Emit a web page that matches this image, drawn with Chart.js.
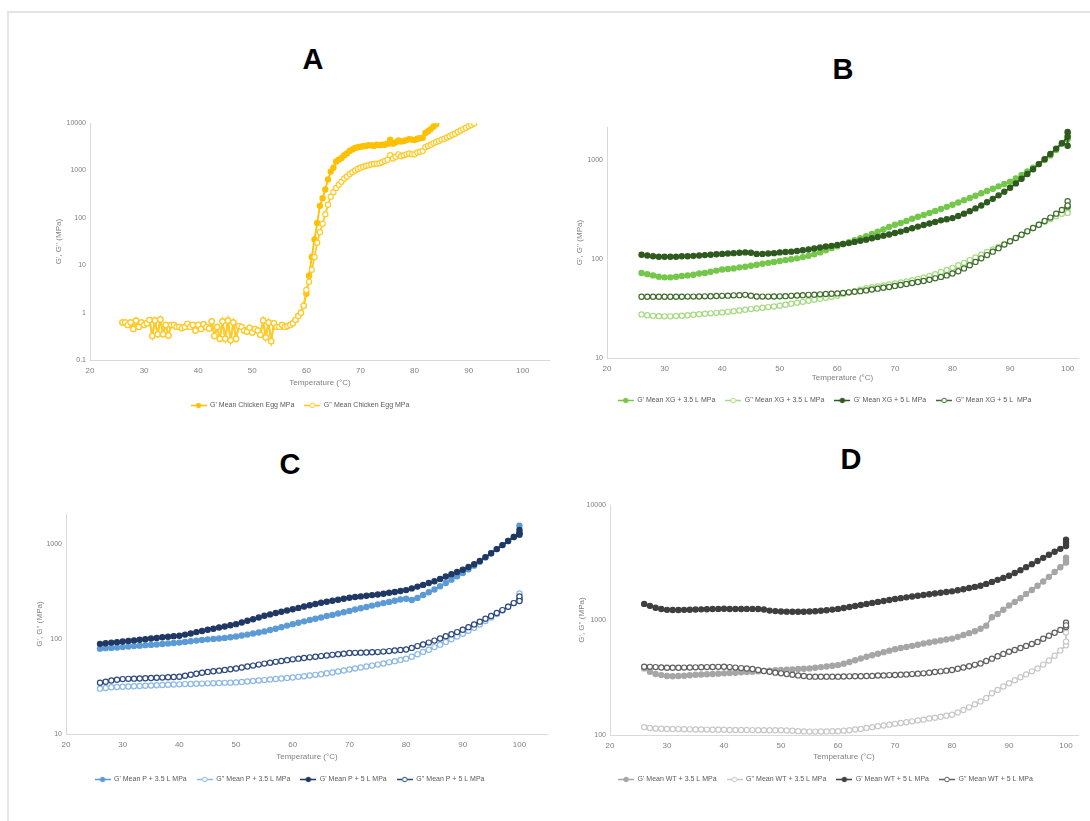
<!DOCTYPE html>
<html>
<head>
<meta charset="UTF-8">
<title>G', G'' vs temperature</title>
<script src="https://cdn.jsdelivr.net/npm/chart.js"></script>
<style>
  body { margin: 0; background: #fff; width: 1090px; height: 821px; overflow: hidden; position: relative; font-family: "Liberation Sans", Arial, sans-serif; }
  #frame { position: absolute; left: 7px; top: 11px; width: 1100px; height: 830px; border-left: 2px solid #e4e4e4; border-top: 2px solid #e4e4e4; }
  .panel-letter { position: absolute; font-weight: bold; font-size: 29px; line-height: 1; color: #000; transform: translateX(-50%); }
  canvas { position: absolute; }
</style>
</head>
<body>
<div id="frame"></div>
<div class="panel-letter" style="left:313px; top:45px;">A</div>
<div class="panel-letter" style="left:843px; top:55px;">B</div>
<div class="panel-letter" style="left:290px; top:450px;">C</div>
<div class="panel-letter" style="left:851px; top:445px;">D</div>

<script>
// ---- data ----
// A: chicken egg, 0.5 °C steps
const tempEgg = [
  26,26.5,27,27.5,28,28.5,29,29.5,30,30.5,
  31,31.5,32,32.5,33,33.5,34,34.5,35,35.5,
  36,36.5,37,37.5,38,38.5,39,39.5,40,40.5,
  41,41.5,42,42.5,43,43.5,44,44.5,45,45.5,
  46,46.5,47,47.5,48,48.5,49,49.5,50,50.5,
  51,51.5,52,52.5,53,53.5,54,54.5,55,55.5,
  56,56.5,57,57.5,58,58.5,59,59.5,60,60.5,
  61,61.5,62,62.5,63,63.5,64,64.5,65,65.5,
  66,66.5,67,67.5,68,68.5,69,69.5,70,70.5,
  71,71.5,72,72.5,73,73.5,74,74.5,75,75.5,
  76,76.5,77,77.5,78,78.5,79,79.5,80,80.5,
  81,81.5,82,82.5,83,83.5,84,84.5,85,85.5,
  86,86.5,87,87.5,88,88.5,89,89.5,90,90.5,
  91
];
// 26 .. 59.5 °C, G' and G'' overlap here
const eggLow = [
  0.62,0.62,0.55,0.62,0.45,0.68,0.5,0.62,0.55,0.6,
  0.7,0.32,0.68,0.35,0.72,0.35,0.55,0.33,0.55,0.55,
  0.5,0.5,0.47,0.5,0.58,0.5,0.55,0.42,0.55,0.45,
  0.57,0.5,0.46,0.65,0.32,0.5,0.28,0.65,0.28,0.68,
  0.26,0.62,0.28,0.52,0.5,0.42,0.4,0.48,0.38,0.45,
  0.42,0.34,0.68,0.3,0.62,0.25,0.6,0.5,0.5,0.55,
  0.5,0.52,0.55,0.6,0.7,0.85,1.0,1.4
];
// 60 .. 84 °C
const eggGpHigh = [
  2.5,6,15,35,78,180,260,400,650,950,
  1150,1550,1700,1850,2100,2300,2600,2800,3000,3100,
  3200,3250,3300,3450,3400,3350,3500,3450,3500,3500,
  3700,4500,3700,3900,4300,4100,4200,4400,4600,4500,
  4400,4700,4800,4900,6200,6800,7500,8500,9500
];
// 60 .. 91 °C
const eggGppHigh = [
  3,4.5,8,15,30,50,75,120,190,280,
  350,430,500,580,680,750,850,920,1000,1080,
  1150,1200,1250,1300,1350,1380,1400,1420,1500,1600,
  1700,2100,1800,1950,2200,2000,2100,2200,2300,2200,
  2200,2400,2500,2600,3100,3300,3500,3800,4000,4200,
  4500,4700,5000,5300,5700,6000,6500,7000,7500,8000,
  8600,9200,9800
];
const eggGp = eggLow.concat(eggGpHigh);
const eggGpp = eggLow.concat(eggGppHigh);

// B, C, D: 1 °C steps, last two are the scatter at 100 °C
const tempSweep = [
  26,27,28,29,30,31,32,33,34,35,
  36,37,38,39,40,41,42,43,44,45,
  46,47,48,49,50,51,52,53,54,55,
  56,57,58,59,60,61,62,63,64,65,
  66,67,68,69,70,71,72,73,74,75,
  76,77,78,79,80,81,82,83,84,85,
  86,87,88,89,90,91,92,93,94,95,
  96,97,98,99,100,100,100
];

// B: XG
const xgGp35 = [
  72,70,68,66,65,65,66,67,68,69,
  71,72,74,76,78,79,80,82,83,85,
  87,89,91,93,95,97,99,101,104,107,
  111,116,122,128,134,141,147,154,161,169,
  178,188,198,209,220,230,241,253,265,277,
  290,304,318,334,350,369,389,410,432,457,
  482,508,537,567,600,645,700,760,830,900,
  990,1100,1250,1450,1700,1850,1600
];
const xgGpp35 = [
  27.5,27,26.6,26.4,26.3,26.3,26.5,26.7,27,27.3,
  27.6,27.9,28.2,28.5,28.8,29.2,29.6,30.1,30.6,31.1,
  31.6,32.1,32.6,33.1,33.6,34.4,35.2,36,36.8,37.7,
  38.6,39.5,40.4,41.4,42.4,44,45.6,47.2,48.8,50.5,
  51.6,52.7,53.8,55,56.3,57.7,59.2,60.8,62.5,64.5,
  67,70,73.5,77,81,86,91,97,103,110,
  117,124,132,141,150,162,175,189,204,220,
  236,252,268,284,300,330,290
];
const xgGp5 = [
  110,108,106,105,105,105,105,106,106,107,
  108,109,110,111,112,113,114,115,116,115,
  112,112,113,114,116,117,118,120,122,124,
  127,130,133,135,138,141,144,148,152,156,
  161,166,171,176,182,188,195,203,211,219,
  227,235,244,250,257,270,285,302,322,345,
  372,402,436,475,520,575,640,715,800,900,
  1010,1140,1290,1460,1700,1900,1380
];
const xgGpp5 = [
  41.4,41.4,41.4,41.4,41.4,41.4,41.5,41.5,41.6,41.6,
  41.7,41.8,41.9,42.1,42.3,42.5,42.8,43,43.3,42.5,
  41.7,41.6,41.6,41.7,41.8,42,42.3,42.6,43,43.3,
  43.5,43.8,44.1,44.4,44.8,45.3,45.9,46.5,47.2,48,
  49,50,51,52,53.3,54.5,55.8,57,58.4,59.8,
  61.5,63.5,65.7,68,71,75,80,86,93,101,
  109,118,128,139,150,162,175,189,204,220,
  240,260,285,310,336,380,345
];

// C: P
const pGp35 = [
  79,80,80.5,81,82,83,84,85,86,86.5,
  87.5,88.5,89.5,90.5,91.5,93,94.5,96,97.5,99,
  100,101,102.5,104,106,108.5,111,114,117,120,
  124,128,133,138,143,148,153,158,163,168,
  174,179,185,191,197,204,210,217,224,231,
  238,245,252,260,265,257,270,290,310,331,
  358,388,420,455,494,540,590,650,720,795,
  880,970,1070,1180,1290,1550,1300
];
const pGpp35 = [
  30,30.5,31,31.2,31.4,31.6,31.8,32,32.2,32.4,
  32.6,32.8,33,33.2,33.3,33.5,33.6,33.8,33.9,34.1,
  34.2,34.4,34.5,34.7,34.9,35.3,35.7,36.1,36.5,36.9,
  37.4,37.9,38.4,38.9,39.3,39.9,40.5,41.2,41.9,42.6,
  43.5,44.4,45.4,46.5,47.6,48.8,50,51.2,52.4,53.7,
  55.2,56.7,58.4,60.2,62,65,69,73,77,82,
  87,93,99,106,113,122,131,142,154,168,
  183,199,218,238,260,300,270
];
const pGp5 = [
  88.7,90,91.5,92.5,93.8,95,96.5,98,99.5,101,
  102.5,104,105.5,107,108,111,114,118,121,125,
  128,132,135,139,143,149,155,161,168,175,
  181,187,193,199,205,212,219,226,233,240,
  246,252,258,265,271,276,280,284,289,293,
  299,306,312,319,326,340,355,370,387,404,
  428,453,480,505,533,570,610,660,725,795,
  880,970,1070,1180,1290,1400,1250
];
const pGpp5 = [
  34.6,35.5,36.5,37.2,37.8,38,38.2,38.4,38.6,38.8,
  39,39.2,39.5,39.7,40,41,42,43,44,45,
  45.7,46.4,47.2,48,48.8,50,51.2,52.4,53.7,55,
  56.2,57.4,58.6,59.8,61,62,63,64,65,66,
  67,68,69,70,71,71.4,71.7,72,72.3,72.7,
  73.6,74.5,75.5,76.5,77.5,80.5,84,87.5,91.5,96,
  101,107,112,118,125,133,142,152,163,174,
  187,201,218,238,260,280,250
];

// D: WT
const wtGp35 = [
  380,355,340,332,326,325,326,328,331,334,
  336,338,340,342,344,346,348,351,353,356,
  358,361,363,366,368,370,372,375,377,380,
  385,390,395,400,406,418,432,447,463,480,
  495,510,526,542,558,571,584,597,611,625,
  638,651,664,677,690,715,742,770,800,842,
  895,1060,1130,1230,1340,1440,1550,1690,1830,1990,
  2170,2380,2620,2880,3170,3500,3300
];
const wtGpp35 = [
  117,115,114,113.5,113,112.8,112.5,112.3,112,111.8,
  111.6,111.4,111.2,111.1,111,110.8,110.7,110.5,110.4,110.3,
  110.2,110.1,110,110,110,109.5,109,108,107.5,107,
  107,107.2,107.5,107.8,108,109,110,111.5,113,115,
  117,119,121,123,125,127,129,131.5,134,136,
  139,141.5,144,147,150,157,165,174,185,196,
  210,231,247,264,282,300,318,337,358,380,
  410,445,490,545,605,780,650
];
const wtGp5 = [
  1384,1330,1280,1250,1228,1225,1225,1228,1232,1236,
  1240,1244,1248,1252,1254,1250,1248,1250,1252,1252,
  1250,1235,1210,1198,1188,1185,1183,1182,1183,1188,
  1195,1205,1218,1234,1252,1275,1300,1326,1354,1384,
  1412,1440,1468,1497,1527,1553,1578,1603,1629,1655,
  1680,1705,1730,1755,1780,1818,1858,1900,1945,1990,
  2065,2150,2240,2330,2430,2570,2720,2890,3070,3270,
  3480,3700,3940,4170,4410,5000,4700
];
const wtGpp5 = [
  393,392,390,387,385,385,385,386,387,388,
  389,390,391,392,393,390,386,382,379,375,
  368,361,355,349,344,339,334,330,326,322,
  322,322,322,322,322,323,324,325,325,326,
  327,329,330,332,333,335,337,339,342,344,
  348,353,358,363,368,377,387,397,408,420,
  440,462,485,508,530,550,572,596,620,646,
  688,730,775,822,870,950,900
];

const tempTicks = [20, 30, 40, 50, 60, 70, 80, 90, 100];

// ---- drawing ----
const FONT = "'Liberation Sans', Arial, sans-serif";
const GREY = '#7f7f7f';

function legendIcon(color, hollow) {
  const c = document.createElement('canvas');
  c.width = 16; c.height = 7;
  const g = c.getContext('2d');
  g.strokeStyle = color; g.lineWidth = 1.5;
  g.beginPath(); g.moveTo(0, 3.5); g.lineTo(16, 3.5); g.stroke();
  g.beginPath(); g.arc(8, 3.5, 2.3, 0, Math.PI * 2);
  g.fillStyle = hollow ? '#fff' : color;
  g.fill(); g.lineWidth = 1; g.stroke();
  return c;
}

function series(label, xs, ys, color, hollow, r) {
  return {
    label: label,
    data: ys.map((y, i) => ({ x: xs[i], y: y })),
    borderColor: color,
    backgroundColor: hollow ? '#fff' : color,
    pointBackgroundColor: hollow ? '#fff' : color,
    pointBorderColor: color,
    pointBorderWidth: 1.2,
    pointRadius: r,
    borderWidth: 1.8,
    tension: 0,
    hollow: hollow
  };
}

// box: canvas left, plot top, y axis width, plot width/height, x axis height
function drawPanel(box, datasets, xMax, yMin, yMax, yTicks) {
  const padTop = 6;
  const w = box.yW + box.plotW + box.padRight;
  const h = padTop + box.plotH + box.xH + 27;
  const cv = document.createElement('canvas');
  cv.width = w; cv.height = h;
  cv.style.left = box.left + 'px';
  cv.style.top = (box.top - padTop) + 'px';
  cv.style.width = w + 'px'; cv.style.height = h + 'px';
  document.body.appendChild(cv);

  // later series on top, like the spreadsheet
  datasets.forEach((d, i) => { d.order = datasets.length - i; });

  new Chart(cv.getContext('2d'), {
    type: 'line',
    data: { datasets: datasets },
    options: {
      responsive: false,
      animation: false,
      layout: { padding: { top: padTop, right: box.padRight, left: 0, bottom: 0 } },
      plugins: {
        tooltip: { enabled: false },
        legend: {
          position: 'bottom',
          labels: {
            usePointStyle: true,
            pointStyleWidth: 16,
            boxHeight: 7,
            padding: 10,
            color: '#595959',
            font: { size: 7, family: FONT },
            generateLabels: chart => chart.data.datasets.map((d, i) => ({
              text: d.label,
              pointStyle: legendIcon(d.borderColor, d.hollow),
              datasetIndex: i,
              hidden: false,
              lineWidth: 0,
              fontColor: '#595959'
            }))
          }
        }
      },
      scales: {
        x: {
          type: 'linear', min: 20, max: xMax,
          grid: { display: false, drawTicks: false },
          border: { display: true, color: '#d9d9d9', width: 1 },
          ticks: { font: { size: 8, family: FONT }, color: GREY, padding: 6, maxRotation: 0, autoSkip: false },
          afterBuildTicks: s => { s.ticks = tempTicks.map(v => ({ value: v })); },
          afterFit: s => { s.height = box.xH; },
          title: { display: true, text: 'Temperature (°C)', color: GREY, font: { size: 8, family: FONT }, padding: { top: 2, bottom: 4 } }
        },
        y: {
          type: 'logarithmic', min: yMin, max: yMax,
          grid: { display: false, drawTicks: false },
          border: { display: true, color: '#d9d9d9', width: 1 },
          ticks: { font: { size: 7, family: FONT }, color: GREY, padding: 4, callback: v => String(v) },
          afterBuildTicks: s => { s.ticks = yTicks.map(v => ({ value: v })); },
          afterFit: s => { s.width = box.yW; },
          title: { display: true, text: "G', G'' (MPa)", color: GREY, font: { size: 8, family: FONT }, padding: { top: 4, bottom: 2 } }
        }
      }
    }
  });
}

drawPanel({ left: 50, top: 121, yW: 40, plotW: 460, plotH: 239, xH: 32, padRight: 5 }, [
  series("G' Mean Chicken Egg MPa", tempEgg, eggGp, '#FFC000', false, 2.6),
  series("G'' Mean Chicken Egg MPa", tempEgg, eggGpp, '#FFCA28', true, 2.6)
], 105, 0.1, 10000, [0.1, 1, 10, 100, 1000, 10000]);

drawPanel({ left: 571, top: 125, yW: 36, plotW: 471, plotH: 233, xH: 29, padRight: 7 }, [
  series("G' Mean XG + 3.5 L MPa", tempSweep, xgGp35, '#74C74A', false, 2.6),
  series("G'' Mean XG + 3.5 L MPa", tempSweep, xgGpp35, '#A6DA82', true, 2.6),
  series("G' Mean XG + 5 L MPa", tempSweep, xgGp5, '#2F5A1F', false, 2.6),
  series("G'' Mean XG + 5 L  MPa", tempSweep, xgGpp5, '#3F6E2D', true, 2.6)
], 101.8, 10, 2120, [10, 100, 1000]);

drawPanel({ left: 31, top: 512, yW: 35, plotW: 482, plotH: 222, xH: 32, padRight: 5 }, [
  series("G' Mean P + 3.5 L MPa", tempSweep, pGp35, '#5B9BD5', false, 2.6),
  series("G'' Mean P + 3.5 L MPa", tempSweep, pGpp35, '#8CB8E4', true, 2.6),
  series("G' Mean P + 5 L MPa", tempSweep, pGp5, '#1F3864', false, 2.6),
  series("G'' Mean P + 5 L MPa", tempSweep, pGpp5, '#2E4A7D', true, 2.6)
], 105, 10, 2050, [10, 100, 1000]);

drawPanel({ left: 573, top: 503, yW: 37, plotW: 468, plotH: 232, xH: 31, padRight: 7 }, [
  series("G' Mean WT + 3.5 L MPa", tempSweep, wtGp35, '#A6A6A6', false, 2.6),
  series("G'' Mean WT + 3.5 L MPa", tempSweep, wtGpp35, '#C8C8C8', true, 2.6),
  series("G' Mean WT + 5 L MPa", tempSweep, wtGp5, '#3F3F3F', false, 2.6),
  series("G'' Mean WT + 5 L MPa", tempSweep, wtGpp5, '#606060', true, 2.6)
], 102.1, 100, 10000, [100, 1000, 10000]);
</script>
</body>
</html>
